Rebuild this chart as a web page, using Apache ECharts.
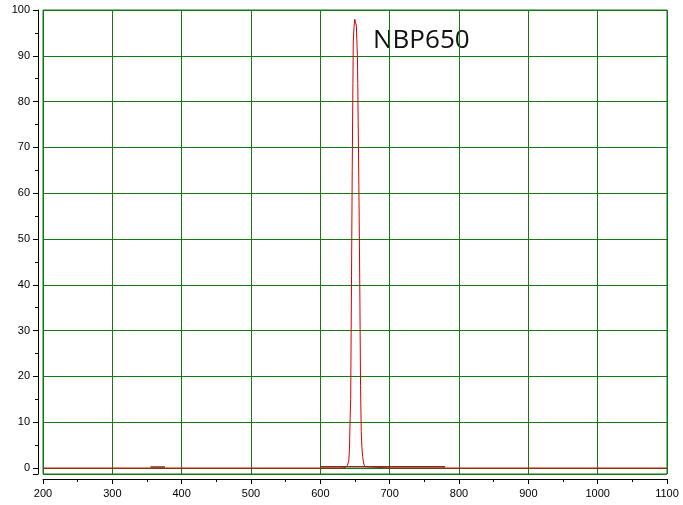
<!DOCTYPE html>
<html>
<head>
<meta charset="utf-8">
<script src="https://cdn.jsdelivr.net/npm/echarts@6/dist/echarts.min.js"></script>
<style>
html,body{margin:0;padding:0;background:#fff;}
#chart{width:683px;height:505px;}
</style>
</head>
<body>
<div id="chart"></div>
<script>
// Wavelength (nm) and transmittance (%)
const wavelengths = [200, 600, 630, 636, 639, 641, 642, 643, 643.8, 645, 646, 647, 647.5, 648.5, 649.6, 650.5, 652, 653, 653.5, 654, 655, 656, 657, 658, 659, 660, 661, 662, 663, 664, 665, 700, 1100];
const transmittance = [0, 0, 0, 0.1, 0.6, 1.5, 4, 11, 15, 42, 65, 84, 93, 96, 98, 97.5, 96.5, 92, 90, 84, 70, 55, 38, 18, 8, 4.5, 2.5, 1.5, 0.8, 0.3, 0, 0, 0];
// Darker measured baseline segments
const darkWavelengths = [355, 376, null, 600, 780];
const darkValues = [0.25, 0.25, null, 0.3, 0.3];
const xTicks = [200, 300, 400, 500, 600, 700, 800, 900, 1000, 1100];
const yTicks = [0, 10, 20, 30, 40, 50, 60, 70, 80, 90, 100];
const label = 'NBP650';

const redData = wavelengths.map((w, i) => [w, transmittance[i]]);
const darkData = darkWavelengths.map((w, i) => w === null ? ['-', '-'] : [w, darkValues[i]]);

const green = '#127812';
const chart = echarts.init(document.getElementById('chart'), null, {renderer: 'canvas'});
chart.setOption({
  animation: false,
  backgroundColor: '#fff',
  grid: {left: 43, right: 16, top: 10, bottom: 31, show: true, borderColor: green, borderWidth: 1, backgroundColor: 'transparent'},
  xAxis: {
    type: 'value', min: xTicks[0], max: xTicks[xTicks.length - 1], interval: 100,
    offset: 5,
    axisLine: {show: true, onZero: false, lineStyle: {color: '#000', width: 1}},
    axisTick: {show: true, length: 5, lineStyle: {color: '#000'}},
    minorTick: {show: true, splitNumber: 2, length: 3, lineStyle: {color: '#000'}},
    splitLine: {show: true, lineStyle: {color: green, width: 1}},
    axisLabel: {color: '#000', fontFamily: 'Arial, Liberation Sans', fontSize: 11, margin: 9,
      formatter: v => xTicks.includes(v) ? String(v) : ''}
  },
  yAxis: {
    type: 'value', min: -1.3, max: 100, splitNumber: 10,
    offset: 5,
    axisLine: {show: true, onZero: false, lineStyle: {color: '#000', width: 1}},
    axisTick: {show: true, length: 5, lineStyle: {color: '#000'}},
    minorTick: {show: true, splitNumber: 2, length: 3, lineStyle: {color: '#000'}},
    splitLine: {show: true, lineStyle: {color: green, width: 1}},
    axisLabel: {color: '#000', fontFamily: 'Arial, Liberation Sans', fontSize: 11, margin: 8,
      formatter: v => yTicks.includes(Math.round(v * 100) / 100) ? String(Math.round(v)) : ''}
  },
  series: [
    {type: 'line', data: redData, showSymbol: false, symbol: 'none', lineStyle: {color: '#d80000', width: 1}, z: 3},
    {type: 'line', data: darkData, showSymbol: false, symbol: 'none', connectNulls: false, lineStyle: {color: '#7a3020', width: 1.5}, z: 4}
  ],
  graphic: [{
    type: 'text', left: 373, top: 28,
    style: {text: label, font: '26px "Open Sans"', fill: '#111'}
  }]
});
</script>
</body>
</html>
